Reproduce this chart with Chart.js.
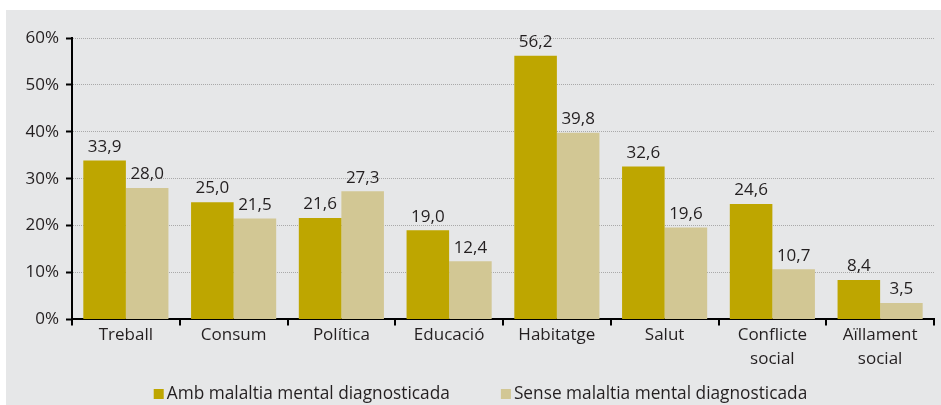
<!DOCTYPE html>
<html>
<head>
<meta charset="utf-8">
<script src="https://cdn.jsdelivr.net/npm/chart.js@4"></script>
<style>
    html, body { margin: 0; padding: 0; background: #ffffff; }
    #marc { position: absolute; left: 6px; top: 10px; width: 935px; height: 395px; background: #e6e7e8; }
</style>
</head>
<body>
<div id="marc"><canvas id="grafic"></canvas></div>
<script>
// Dades
const categories = ['Treball', 'Consum', 'Política', 'Educació', 'Habitatge', 'Salut', ['Conflicte', 'social'], ['Aïllament', 'social']];
const ambMalaltia = [33.9, 25.0, 21.6, 19.0, 56.2, 32.6, 24.6, 8.4];
const senseMalaltia = [28.0, 21.5, 27.3, 12.4, 39.8, 19.6, 10.7, 3.5];
const series = ['Amb malaltia mental diagnosticada', 'Sense malaltia mental diagnosticada'];
const colors = ['#bea600', '#d2c794'];

const colorText = '#231f20';
const font = 'Open Sans';

// Etiquetes de valor sobre les barres
const etiquetesValor = {
    id: 'etiquetesValor',
    afterDatasetsDraw(chart) {
        const ctx = chart.ctx;
        ctx.save();
        ctx.font = '17px "' + font + '"';
        ctx.fillStyle = colorText;
        ctx.textAlign = 'center';
        ctx.textBaseline = 'bottom';
        chart.data.datasets.forEach(function(ds, i) {
            chart.getDatasetMeta(i).data.forEach(function(bar, j) {
                ctx.fillText(ds.data[j].toFixed(1).replace('.', ','), bar.x, bar.y - 5);
            });
        });
        ctx.restore();
    }
};

// Llegenda a sota (quadret enganxat al text)
const llegenda = {
    id: 'llegenda',
    afterDraw(chart) {
        const ctx = chart.ctx;
        const caixa = 10, espai = 3, separacio = 51;
        const base = chart.height - 6;
        ctx.save();
        ctx.font = '17.3px "' + font + '"';
        ctx.textBaseline = 'alphabetic';
        ctx.textAlign = 'left';
        const amples = chart.data.datasets.map(function(ds) { return ctx.measureText(ds.label).width; });
        let total = 0;
        amples.forEach(function(w) { total += caixa + espai + w; });
        total += separacio * (amples.length - 1);
        let x = chart.width / 2 + 7 - total / 2;
        chart.data.datasets.forEach(function(ds, i) {
            ctx.fillStyle = ds.backgroundColor;
            ctx.fillRect(x, base - caixa, caixa, caixa);
            ctx.fillStyle = colorText;
            ctx.fillText(ds.label, x + caixa + espai, base);
            x += caixa + espai + amples[i] + separacio;
        });
        ctx.restore();
    }
};

new Chart(document.getElementById('grafic'), {
    type: 'bar',
    data: {
        labels: categories,
        datasets: [
            { label: series[0], data: ambMalaltia, backgroundColor: colors[0] },
            { label: series[1], data: senseMalaltia, backgroundColor: colors[1] }
        ]
    },
    options: {
        responsive: true,
        maintainAspectRatio: false,
        animation: false,
        categoryPercentage: 0.79,
        barPercentage: 1.0,
        layout: { padding: { top: 28, right: 7, bottom: 36, left: 0 } },
        scales: {
            x: {
                grid: { drawOnChartArea: false, color: '#000', lineWidth: 2, tickLength: 6 },
                border: { color: '#000', width: 2 },
                ticks: { color: colorText, font: { family: font, size: 17, lineHeight: 1.4 }, padding: -2, maxRotation: 0, autoSkip: false }
            },
            y: {
                min: 0,
                max: 60,
                afterFit: function(scale) { scale.width = 66; },
                grid: { color: '#a9a9a9', lineWidth: 1, tickColor: '#000', tickWidth: 2, tickLength: 6 },
                border: { color: '#000', width: 2, dash: [1, 1] },
                ticks: {
                    stepSize: 10,
                    color: colorText,
                    font: { family: font, size: 17 },
                    padding: 7,
                    callback: function(v) { return v + '%'; }
                }
            }
        },
        plugins: {
            legend: { display: false },
            tooltip: { enabled: false }
        }
    },
    plugins: [etiquetesValor, llegenda]
});
</script>
</body>
</html>
